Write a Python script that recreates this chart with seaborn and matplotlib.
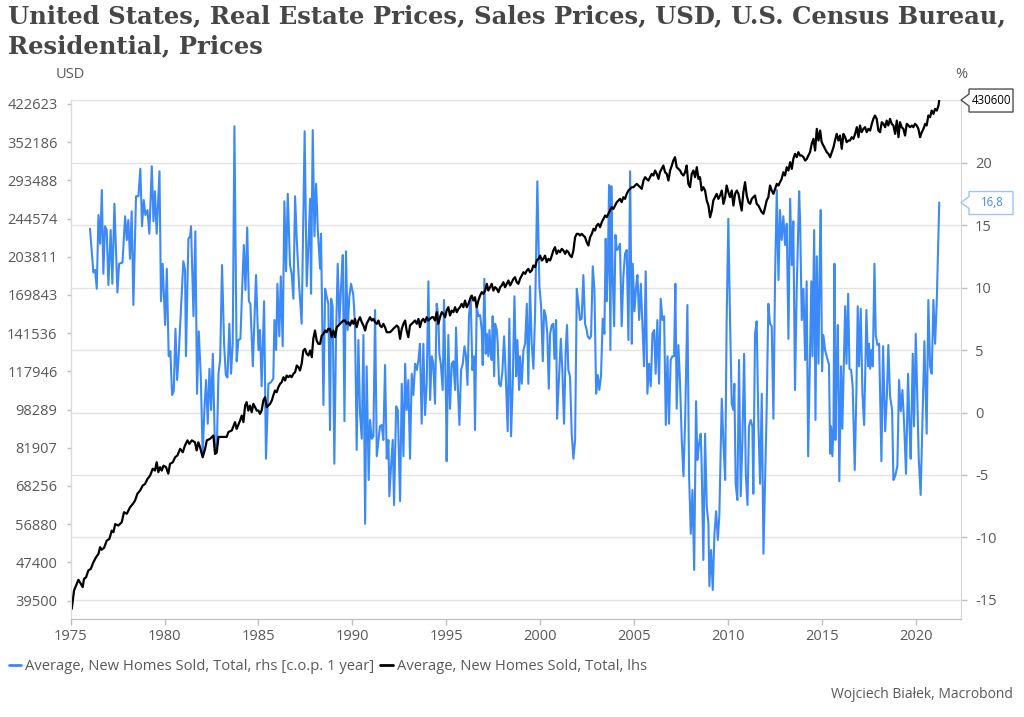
import matplotlib
matplotlib.use("Agg")
import matplotlib.pyplot as plt
import matplotlib.ticker as mticker
from matplotlib.lines import Line2D
from matplotlib.patches import Polygon
import seaborn as sns
import pandas as pd

# ---------------------------------------------------------------
# Data (decimal year, value)
# ---------------------------------------------------------------
# rhs: average new home price, % change on previous year
blue_pct = [
    (1976.03, 14.7), (1976.21, 11.2), (1976.30, 11.4), (1976.39, 9.9), (1976.48, 15.8),
    (1976.57, 13.5), (1976.66, 17.8), (1976.74, 11.1), (1976.83, 14.9), (1976.92, 14.6),
    (1977.01, 10.2), (1977.13, 14.6), (1977.22, 10.3), (1977.33, 16.7), (1977.49, 9.6),
    (1977.58, 11.9), (1977.76, 12.0), (1977.90, 15.7), (1977.99, 13.8), (1978.07, 15.4),
    (1978.16, 12.3), (1978.25, 16.1), (1978.34, 8.6), (1978.48, 17.3), (1978.61, 17.3),
    (1978.71, 19.5), (1978.80, 14.9), (1978.89, 17.0), (1978.98, 15.8), (1979.09, 16.2),
    (1979.19, 14.3), (1979.32, 19.7), (1979.41, 15.3), (1979.49, 17.7), (1979.58, 14.3),
    (1979.73, 19.3), (1979.81, 8.9), (1979.90, 11.9), (1980.03, 7.0), (1980.12, 11.5),
    (1980.22, 4.5), (1980.31, 4.9), (1980.40, 1.4), (1980.49, 1.7), (1980.58, 6.7),
    (1980.67, 2.6), (1980.75, 4.5), (1980.88, 8.5), (1981.00, 12.1), (1981.09, 11.4),
    (1981.14, 4.5), (1981.27, 13.9), (1981.36, 14.1), (1981.41, 14.9), (1981.54, 7.7),
    (1981.64, 14.5), (1981.73, 1.5), (1981.82, 6.5), (1981.93, 2.9), (1982.03, -3.5),
    (1982.12, 0.2), (1982.21, 2.6), (1982.30, -0.9), (1982.39, 3.5), (1982.48, 0.2),
    (1982.57, 4.7), (1982.69, -3.3), (1982.78, -3.2), (1982.87, 3.1), (1982.96, 4.2),
    (1983.06, 11.8), (1983.17, 5.5), (1983.26, 3.0), (1983.35, 2.8), (1983.45, 7.1),
    (1983.54, 3.1), (1983.63, 5.5), (1983.72, 22.9), (1983.84, 4.1), (1983.93, 5.8),
    (1984.04, 5.9), (1984.13, 9.8), (1984.22, 13.4), (1984.31, 9.8), (1984.40, 14.8),
    (1984.49, 8.9), (1984.57, 8.7), (1984.70, 3.7), (1984.87, 11.0), (1985.00, 5.0),
    (1985.08, 6.6), (1985.17, 2.1), (1985.30, 8.9), (1985.40, -3.7), (1985.53, 2.3),
    (1985.65, 2.4), (1985.79, 2.7), (1985.85, 7.4), (1985.94, 5.0), (1986.01, 10.3),
    (1986.11, 6.1), (1986.19, 10.9), (1986.29, 5.3), (1986.38, 16.9), (1986.47, 11.3),
    (1986.56, 17.5), (1986.68, 11.8), (1986.77, 11.1), (1986.86, 9.1), (1986.95, 17.3),
    (1987.04, 13.8), (1987.16, 10.3), (1987.30, 7.1), (1987.46, 22.5), (1987.57, 10.1),
    (1987.66, 13.3), (1987.75, 17.1), (1987.80, 9.5), (1987.89, 22.6), (1987.98, 14.1),
    (1988.07, 18.3), (1988.16, 14.6), (1988.28, 11.5), (1988.33, 14.3), (1988.46, 0.6),
    (1988.55, 9.9), (1988.63, 9.3), (1988.72, 8.7), (1988.81, -1.4), (1988.87, 9.1),
    (1988.95, 8.5), (1989.04, -4.1), (1989.13, 6.1), (1989.22, 11.9), (1989.31, 7.1),
    (1989.40, 10.1), (1989.49, 12.6), (1989.58, -0.7), (1989.66, 12.9), (1989.75, 6.6),
    (1989.84, 9.3), (1989.93, 10.3), (1990.05, 9.4), (1990.14, 7.1), (1990.23, -3.0),
    (1990.32, 5.8), (1990.41, -0.1), (1990.50, -2.1), (1990.59, 6.2), (1990.68, -8.9),
    (1990.76, 3.7), (1990.87, -5.4), (1990.94, -0.6), (1991.03, -2.1), (1991.12, -1.9),
    (1991.21, 8.2), (1991.30, -3.5), (1991.39, -2.2), (1991.47, -1.1), (1991.56, -1.0),
    (1991.65, -2.2), (1991.74, 3.8), (1991.83, -3.7), (1991.92, -2.2), (1991.97, -6.7),
    (1992.06, -4.3), (1992.15, -2.2), (1992.22, -7.4), (1992.33, 0.5), (1992.42, 0.2),
    (1992.54, -7.1), (1992.63, 2.3), (1992.72, -3.5), (1992.81, 3.9), (1992.89, 0.2),
    (1992.98, 2.6), (1993.07, -3.7), (1993.16, 3.1), (1993.25, 1.4), (1993.34, 3.9),
    (1993.43, 3.4), (1993.52, 4.2), (1993.60, 5.5), (1993.69, -0.9), (1993.78, 5.5),
    (1993.87, -0.2), (1993.96, 2.3), (1994.05, 10.5), (1994.14, 1.0), (1994.23, 4.5),
    (1994.31, 3.9), (1994.40, 0.7), (1994.49, 8.7), (1994.58, 7.7), (1994.63, 4.7),
    (1994.71, 3.9), (1994.81, 1.8), (1994.88, 9.0), (1994.99, 0.5), (1995.02, -3.9),
    (1995.11, 6.2), (1995.20, 0.3), (1995.29, 3.9), (1995.38, 4.1), (1995.47, 1.8),
    (1995.52, 6.8), (1995.61, 2.3), (1995.70, -1.0), (1995.79, 3.4), (1995.88, 3.9),
    (1995.97, 5.3), (1996.05, 4.5), (1996.13, 2.2), (1996.21, 7.7), (1996.30, 9.3),
    (1996.39, 3.4), (1996.48, 4.5), (1996.53, -1.4), (1996.62, 8.5), (1996.71, 7.7),
    (1996.80, 7.8), (1996.89, 6.6), (1996.94, 3.8), (1997.03, 10.7), (1997.10, 4.7),
    (1997.16, 6.3), (1997.24, 4.5), (1997.30, 6.6), (1997.37, 4.7), (1997.42, 4.2),
    (1997.47, 7.7), (1997.55, 2.9), (1997.60, 7.1), (1997.69, 6.6), (1997.74, 5.5),
    (1997.81, 2.3), (1997.90, 2.1), (1997.99, 3.3), (1998.08, 6.1), (1998.17, 2.9),
    (1998.27, -1.5), (1998.36, 7.5), (1998.45, -1.9), (1998.54, 2.3), (1998.63, 9.3),
    (1998.72, 2.9), (1998.79, 5.8), (1998.88, 1.8), (1998.93, 4.5), (1999.02, 2.3),
    (1999.11, 5.0), (1999.20, 5.5), (1999.29, 8.7), (1999.37, 2.3), (1999.46, 10.1),
    (1999.55, 5.5), (1999.64, 3.5), (1999.73, 7.9), (1999.85, 18.5), (1999.96, 10.1),
    (2000.05, 8.5), (2000.14, 4.1), (2000.21, 8.2), (2000.30, 7.7), (2000.38, 6.3),
    (2000.46, 1.9), (2000.53, 6.3), (2000.62, 7.0), (2000.70, 7.1), (2000.76, 4.3),
    (2000.85, 7.4), (2000.90, -0.5), (2000.99, 2.3), (2001.10, 5.9), (2001.18, 3.4),
    (2001.27, -0.9), (2001.36, 5.0), (2001.43, 7.0), (2001.50, 3.4), (2001.59, 2.9),
    (2001.68, -1.7), (2001.77, -3.7), (2001.86, -2.2), (2001.95, 9.9), (2002.04, 8.7),
    (2002.12, 7.4), (2002.21, 7.5), (2002.30, 11.0), (2002.39, 7.1), (2002.48, 6.6),
    (2002.53, 6.1), (2002.62, 5.9), (2002.71, 6.1), (2002.80, 11.7), (2002.89, 9.8),
    (2002.98, 1.5), (2003.07, 3.0), (2003.15, 1.8), (2003.24, 2.9), (2003.33, 7.5),
    (2003.42, 6.3), (2003.49, 13.9), (2003.54, 8.9), (2003.60, 11.5), (2003.67, 18.2),
    (2003.74, 5.0), (2003.79, 18.1), (2003.86, 11.0), (2003.94, 6.9), (2004.01, 14.2),
    (2004.08, 13.0), (2004.17, 13.1), (2004.25, 13.5), (2004.34, 6.9), (2004.43, 10.9),
    (2004.52, 12.7), (2004.61, 13.0), (2004.70, 5.8), (2004.79, 19.3), (2004.88, 5.5),
    (2004.93, 11.9), (2005.02, 8.1), (2005.11, 10.1), (2005.18, 11.0), (2005.27, 7.4),
    (2005.36, 10.3), (2005.44, 7.1), (2005.53, 3.7), (2005.62, 11.3), (2005.71, 1.5),
    (2005.80, 3.9), (2005.89, 2.1), (2005.98, 6.3), (2006.07, 6.6), (2006.15, 3.1),
    (2006.24, 7.4), (2006.33, 2.3), (2006.42, 9.1), (2006.51, 7.4), (2006.60, 7.7),
    (2006.69, -1.0), (2006.78, 4.5), (2006.86, -0.9), (2006.95, 4.2), (2007.04, 4.5),
    (2007.13, 4.5), (2007.20, 10.3), (2007.27, 0.3), (2007.36, 5.4), (2007.45, 2.3),
    (2007.54, -2.2), (2007.63, -5.1), (2007.72, -0.6), (2007.84, 8.6), (2007.93, -5.1),
    (2008.02, -9.7), (2008.11, -6.2), (2008.20, -12.6), (2008.30, 0.9), (2008.37, -3.8),
    (2008.46, -2.5), (2008.55, -1.7), (2008.60, -4.3), (2008.69, -11.8), (2008.78, -1.7),
    (2008.87, -7.5), (2008.96, -8.9), (2009.01, -13.9), (2009.10, -11.0), (2009.19, -14.2),
    (2009.28, -9.7), (2009.37, -7.9), (2009.46, -10.2), (2009.54, -8.3), (2009.67, 1.1),
    (2009.76, -2.5), (2009.85, -5.4), (2009.93, 7.4), (2010.02, 15.5), (2010.11, 7.4),
    (2010.20, 0.7), (2010.29, 0.2), (2010.34, 2.3), (2010.41, -5.7), (2010.50, -7.0),
    (2010.59, 4.2), (2010.68, -6.7), (2010.77, -2.2), (2010.86, 4.7), (2010.95, -4.9),
    (2011.04, -7.4), (2011.12, -1.1), (2011.21, -0.6), (2011.30, -1.1), (2011.35, -6.5),
    (2011.44, 6.3), (2011.53, 7.3), (2011.62, -0.9), (2011.71, -5.7), (2011.80, 1.5),
    (2011.89, -11.3), (2011.98, -5.4), (2012.06, 0.2), (2012.15, 8.7), (2012.24, 7.1),
    (2012.33, 6.9), (2012.42, -0.5), (2012.51, 11.0), (2012.60, 17.8), (2012.69, 10.6),
    (2012.77, 16.2), (2012.86, 13.8), (2012.95, 15.7), (2013.04, 13.4), (2013.13, 15.1),
    (2013.22, 5.9), (2013.31, 17.1), (2013.40, 11.8), (2013.48, 15.3), (2013.57, 1.8),
    (2013.66, 9.8), (2013.79, 17.7), (2013.84, 15.4), (2013.93, 7.4), (2014.02, 9.9),
    (2014.11, 4.2), (2014.19, 10.5), (2014.27, -3.5), (2014.37, 4.5), (2014.44, 10.5),
    (2014.50, 4.5), (2014.59, 14.6), (2014.66, -0.6), (2014.73, 12.5), (2014.82, 3.9),
    (2014.89, 12.5), (2014.94, 16.2), (2015.01, 3.3), (2015.08, 6.2), (2015.17, 5.0),
    (2015.26, 4.5), (2015.38, 3.8), (2015.44, -3.3), (2015.49, -1.1), (2015.56, -3.5),
    (2015.62, -1.1), (2015.67, 11.9), (2015.72, -2.2), (2015.79, 3.9), (2015.85, 7.0),
    (2015.93, -5.5), (2016.02, 3.7), (2016.09, -1.3), (2016.16, 3.1), (2016.24, 8.5),
    (2016.31, 3.9), (2016.40, 9.5), (2016.47, 3.5), (2016.56, 3.4), (2016.64, 2.1),
    (2016.75, -4.6), (2016.84, 1.8), (2016.91, 8.5), (2016.98, 3.7), (2017.07, 8.3),
    (2017.16, 1.5), (2017.25, -1.0), (2017.32, 3.9), (2017.37, 8.2), (2017.46, 3.7),
    (2017.51, 5.5), (2017.57, 3.5), (2017.64, 5.0), (2017.71, 3.7), (2017.80, 11.9),
    (2017.87, 6.2), (2017.96, 5.4), (2018.05, 5.5), (2018.17, -3.9), (2018.26, 5.3),
    (2018.37, -1.5), (2018.46, 1.3), (2018.54, 5.4), (2018.63, 1.3), (2018.74, 0.2),
    (2018.81, -5.4), (2018.90, -5.1), (2019.02, -4.3), (2019.11, 2.6), (2019.20, 0.1),
    (2019.29, 1.8), (2019.38, -0.9), (2019.48, -4.9), (2019.59, 3.1), (2019.66, -0.9),
    (2019.73, -3.7), (2019.84, 4.7), (2019.91, -1.1), (2020.00, 6.3), (2020.09, 0.7),
    (2020.16, -3.7), (2020.26, -6.6), (2020.37, 0.3), (2020.46, 5.7), (2020.58, -1.7),
    (2020.67, 9.0), (2020.76, 3.7), (2020.85, 3.1), (2020.94, 9.0), (2021.03, 5.5),
    (2021.12, 9.0), (2021.17, 11.9), (2021.25, 16.8),
]

# lhs: average new home price, USD
black_usd = [
    (1975.06, 37960), (1975.18, 41440), (1975.29, 42430), (1975.41, 43600), (1975.54, 42780),
    (1975.64, 42110), (1975.71, 43800), (1975.82, 44130), (1975.94, 45580), (1976.07, 45930),
    (1976.21, 47400), (1976.35, 48550), (1976.48, 49350), (1976.57, 50950), (1976.65, 50320),
    (1976.78, 50780), (1976.92, 52570), (1977.06, 52980), (1977.19, 55150), (1977.28, 54730),
    (1977.37, 56880), (1977.54, 56490), (1977.72, 57400), (1977.84, 60200), (1977.99, 59760),
    (1978.16, 61630), (1978.31, 62630), (1978.43, 63660), (1978.55, 65720), (1978.70, 66800),
    (1978.84, 68400), (1978.96, 68890), (1979.09, 70550), (1979.23, 71700), (1979.37, 74100),
    (1979.49, 73440), (1979.58, 76420), (1979.67, 72890), (1979.76, 74650), (1979.85, 73440),
    (1979.94, 75180), (1980.08, 74650), (1980.20, 72350), (1980.29, 75830), (1980.44, 76420),
    (1980.56, 78260), (1980.68, 78900), (1980.83, 81480), (1980.97, 80160), (1981.09, 82830),
    (1981.22, 84830), (1981.32, 83430), (1981.45, 84830), (1981.62, 84060), (1981.71, 80870),
    (1981.80, 84060), (1981.89, 82060), (1982.03, 78260), (1982.16, 81480), (1982.25, 84830),
    (1982.42, 85440), (1982.60, 86820), (1982.69, 79520), (1982.78, 80160), (1982.87, 86240),
    (1983.13, 86240), (1983.31, 86240), (1983.40, 88270), (1983.58, 88940), (1983.75, 92540),
    (1983.84, 89600), (1984.02, 93230), (1984.11, 95480), (1984.20, 92540), (1984.29, 100150),
    (1984.37, 101840), (1984.46, 97770), (1984.55, 100150), (1984.64, 97010), (1984.73, 101000),
    (1984.91, 97770), (1985.00, 97830), (1985.08, 96280), (1985.17, 97830), (1985.26, 102610),
    (1985.35, 104250), (1985.44, 99390), (1985.53, 100180), (1985.62, 100980), (1985.71, 102610),
    (1985.79, 105080), (1985.88, 107610), (1985.97, 106760), (1986.06, 109350), (1986.15, 111100),
    (1986.24, 111990), (1986.33, 114680), (1986.42, 112880), (1986.50, 115600), (1986.59, 114680),
    (1986.68, 115600), (1986.77, 114680), (1986.86, 116540), (1986.95, 117450), (1987.04, 121260),
    (1987.13, 120290), (1987.21, 118410), (1987.30, 122220), (1987.39, 130260), (1987.48, 131290),
    (1987.57, 128190), (1987.66, 127190), (1987.75, 130260), (1987.84, 126180), (1987.92, 137710),
    (1988.01, 143300), (1988.10, 136620), (1988.19, 134470), (1988.28, 134470), (1988.37, 139920),
    (1988.46, 141050), (1988.55, 143300), (1988.63, 142150), (1988.72, 144460), (1988.81, 144460),
    (1988.90, 138830), (1988.99, 143300), (1989.08, 138830), (1989.17, 145580), (1989.26, 146770),
    (1989.34, 147960), (1989.43, 149120), (1989.52, 150310), (1989.61, 150310), (1989.70, 147960),
    (1989.79, 149120), (1989.88, 146770), (1989.97, 150310), (1990.06, 147960), (1990.14, 151490),
    (1990.23, 145580), (1990.32, 150310), (1990.41, 152700), (1990.50, 149120), (1990.59, 146770),
    (1990.68, 143300), (1990.76, 147960), (1990.85, 150310), (1990.94, 152700), (1991.03, 150310),
    (1991.12, 151490), (1991.21, 149120), (1991.30, 147960), (1991.39, 150310), (1991.47, 146770),
    (1991.56, 145580), (1991.65, 147960), (1991.74, 145580), (1991.83, 142150), (1991.92, 142150),
    (1992.01, 142150), (1992.10, 143300), (1992.18, 144460), (1992.27, 145580), (1992.36, 146770),
    (1992.45, 145580), (1992.54, 137710), (1992.63, 144460), (1992.72, 147960), (1992.81, 150310),
    (1992.89, 143300), (1992.98, 138830), (1993.07, 146770), (1993.16, 147960), (1993.25, 149120),
    (1993.34, 150310), (1993.43, 147960), (1993.52, 151490), (1993.60, 145580), (1993.69, 150310),
    (1993.78, 151490), (1993.87, 149120), (1993.96, 152700), (1994.05, 150310), (1994.14, 151490),
    (1994.23, 152700), (1994.31, 152700), (1994.40, 150310), (1994.49, 156420), (1994.58, 147960),
    (1994.67, 152700), (1994.76, 156420), (1994.85, 155150), (1994.94, 152700), (1995.02, 157670),
    (1995.11, 160170), (1995.20, 153940), (1995.29, 157670), (1995.38, 156420), (1995.47, 160170),
    (1995.56, 156420), (1995.65, 158910), (1995.73, 160170), (1995.82, 162740), (1995.91, 160170),
    (1996.00, 165340), (1996.09, 160170), (1996.18, 162740), (1996.27, 166690), (1996.36, 169340),
    (1996.44, 165340), (1996.53, 168020), (1996.62, 160170), (1996.71, 165340), (1996.80, 169340),
    (1996.89, 172100), (1996.98, 170690), (1997.07, 173430), (1997.16, 179060), (1997.24, 173430),
    (1997.33, 176220), (1997.42, 179060), (1997.51, 173430), (1997.60, 176220), (1997.69, 174870),
    (1997.78, 172100), (1997.87, 176220), (1997.95, 177630), (1998.04, 180480), (1998.13, 176220),
    (1998.22, 179060), (1998.31, 181940), (1998.40, 177630), (1998.49, 180480), (1998.58, 183400),
    (1998.66, 184860), (1998.75, 180480), (1998.84, 179060), (1998.93, 183400), (1999.02, 186320),
    (1999.11, 189280), (1999.20, 187800), (1999.29, 190830), (1999.37, 192330), (1999.46, 189280),
    (1999.55, 190830), (1999.64, 195450), (1999.73, 193870), (1999.82, 200150), (1999.91, 201730),
    (2000.00, 204930), (2000.09, 200150), (2000.17, 201730), (2000.26, 204930), (2000.35, 198570),
    (2000.44, 201730), (2000.53, 200150), (2000.62, 204930), (2000.70, 209930), (2000.79, 213330),
    (2000.88, 206640), (2000.97, 209930), (2001.06, 208280), (2001.15, 211600), (2001.24, 209930),
    (2001.33, 206640), (2001.41, 209930), (2001.50, 208280), (2001.59, 204930), (2001.68, 203380),
    (2001.77, 209930), (2001.86, 223730), (2001.95, 227330), (2002.04, 227330), (2002.12, 225550),
    (2002.21, 227330), (2002.30, 225550), (2002.39, 223730), (2002.48, 218440), (2002.57, 215000),
    (2002.66, 223730), (2002.75, 227330), (2002.84, 232850), (2002.92, 230980), (2003.01, 236570),
    (2003.10, 238420), (2003.19, 234680), (2003.28, 240360), (2003.37, 244190), (2003.46, 248140),
    (2003.54, 246160), (2003.63, 250090), (2003.72, 254090), (2003.81, 258200), (2003.90, 256120),
    (2003.99, 260230), (2004.08, 264410), (2004.17, 266530), (2004.25, 268640), (2004.34, 264410),
    (2004.43, 270790), (2004.52, 268640), (2004.61, 275160), (2004.70, 279550), (2004.79, 281830),
    (2004.88, 284030), (2004.97, 284030), (2005.05, 286300), (2005.14, 288630), (2005.23, 286300),
    (2005.32, 284030), (2005.41, 281830), (2005.50, 293210), (2005.59, 297910), (2005.67, 295540),
    (2005.76, 293210), (2005.85, 297910), (2005.94, 302660), (2006.03, 300320), (2006.12, 307570),
    (2006.21, 302660), (2006.30, 295540), (2006.38, 305140), (2006.47, 310000), (2006.56, 314970),
    (2006.65, 305140), (2006.74, 302660), (2006.83, 293210), (2006.92, 307570), (2007.01, 314970),
    (2007.09, 322560), (2007.18, 327810), (2007.27, 312480), (2007.36, 310000), (2007.45, 307570),
    (2007.54, 302660), (2007.63, 300320), (2007.72, 305140), (2007.80, 314970), (2007.89, 288630),
    (2007.98, 284030), (2008.07, 302660), (2008.16, 307570), (2008.25, 297910), (2008.34, 312480),
    (2008.43, 295540), (2008.51, 297910), (2008.60, 279550), (2008.69, 284030), (2008.78, 279550),
    (2008.87, 266530), (2008.96, 260230), (2009.05, 246160), (2009.14, 254090), (2009.22, 266530),
    (2009.31, 270790), (2009.40, 275160), (2009.49, 268640), (2009.58, 272950), (2009.67, 279550),
    (2009.76, 262330), (2009.85, 270790), (2009.93, 286300), (2010.02, 277290), (2010.11, 270790),
    (2010.20, 279550), (2010.29, 260230), (2010.38, 275160), (2010.47, 279550), (2010.56, 275160),
    (2010.64, 264410), (2010.73, 254090), (2010.82, 277290), (2010.91, 290880), (2011.00, 272950),
    (2011.09, 264410), (2011.18, 262330), (2011.27, 268640), (2011.35, 270790), (2011.44, 272950),
    (2011.53, 262330), (2011.62, 260230), (2011.71, 256120), (2011.80, 252090), (2011.89, 250090),
    (2011.98, 258200), (2012.06, 266530), (2012.15, 270790), (2012.24, 286300), (2012.33, 279550),
    (2012.42, 275160), (2012.51, 281830), (2012.60, 288630), (2012.69, 286300), (2012.77, 290880),
    (2012.86, 295540), (2012.95, 305140), (2013.04, 300320), (2013.13, 312480), (2013.22, 307570),
    (2013.31, 320070), (2013.40, 310000), (2013.48, 325180), (2013.57, 333030), (2013.66, 327810),
    (2013.75, 335710), (2013.84, 330380), (2013.93, 330380), (2014.02, 327810), (2014.11, 322560),
    (2014.20, 325180), (2014.28, 330380), (2014.37, 335710), (2014.46, 349340), (2014.55, 357750),
    (2014.64, 338360), (2014.73, 375210), (2014.82, 354920), (2014.91, 372260), (2014.99, 352060),
    (2015.08, 346530), (2015.17, 341120), (2015.26, 335710), (2015.35, 333030), (2015.44, 327810),
    (2015.53, 335710), (2015.62, 343770), (2015.70, 354920), (2015.79, 366360), (2015.88, 354920),
    (2015.97, 363480), (2016.06, 341120), (2016.15, 366360), (2016.24, 360590), (2016.32, 352060),
    (2016.41, 354920), (2016.50, 354920), (2016.59, 360590), (2016.68, 357750), (2016.77, 366360),
    (2016.86, 378220), (2016.95, 360590), (2017.03, 381290), (2017.12, 369290), (2017.21, 375210),
    (2017.30, 378220), (2017.39, 369290), (2017.48, 375210), (2017.57, 372260), (2017.66, 384270),
    (2017.74, 393540), (2017.83, 399820), (2017.92, 393540), (2018.01, 372260), (2018.10, 369290),
    (2018.19, 387340), (2018.28, 384270), (2018.37, 378220), (2018.45, 390390), (2018.54, 381290),
    (2018.63, 393540), (2018.72, 384270), (2018.81, 381290), (2018.90, 366360), (2018.99, 390390),
    (2019.08, 360590), (2019.16, 387340), (2019.25, 378220), (2019.34, 375210), (2019.43, 363480),
    (2019.52, 384270), (2019.61, 381290), (2019.70, 378220), (2019.79, 381290), (2019.87, 378220),
    (2019.96, 384270), (2020.05, 381290), (2020.14, 375210), (2020.23, 360590), (2020.32, 369290),
    (2020.41, 375210), (2020.50, 384270), (2020.58, 381290), (2020.67, 399820), (2020.76, 396700),
    (2020.85, 409460), (2020.94, 403060), (2021.03, 412780), (2021.12, 409460), (2021.21, 419370),
    (2021.25, 430600),
]

usd_ticks = [39500, 47400, 56880, 68256, 81907, 98289, 117946, 141536,
             169843, 203811, 244574, 293488, 352186, 422623]
pct_ticks = [-15, -10, -5, 0, 5, 10, 15, 20, 25]
year_ticks = [1975, 1980, 1985, 1990, 1995, 2000, 2005, 2010, 2015, 2020]

title = ("United States, Real Estate Prices, Sales Prices, USD, U.S. Census Bureau,\n"
         "Residential, Prices")
label_rhs = "Average, New Homes Sold, Total, rhs [c.o.p. 1 year]"
label_lhs = "Average, New Homes Sold, Total, lhs"
last_usd_label = "430600"
last_pct_label = "16,8"

BLUE = "#3c8af5"
GREY_TXT = "#595959"

df_blue = pd.DataFrame(blue_pct, columns=["year", "pct"])
df_black = pd.DataFrame(black_usd, columns=["year", "usd"])

sns.set_style("white")
plt.rcParams["font.family"] = ["Open Sans", "DejaVu Sans"]

fig = plt.figure(figsize=(10.24, 7.17), dpi=100)
ax = fig.add_axes([0.069, 0.1367, 0.8695, 0.7238])   # lhs, black line (top layer)
ax_r = ax.twinx()                                      # rhs, blue line (bottom layer)
ax.set_zorder(ax_r.get_zorder() + 1)
ax.patch.set_visible(False)

sns.lineplot(data=df_blue, x="year", y="pct", ax=ax_r, color=BLUE,
             linewidth=1.5, legend=False)
sns.lineplot(data=df_black, x="year", y="usd", ax=ax, color="black",
             linewidth=1.6, legend=False)

# x axis
ax.set_xlim(1975.0, 2022.41)
ax.set_xticks(year_ticks)
ax.set_xticklabels([str(y) for y in year_ticks])

# lhs log axis
ax.set_yscale("log")
ax.set_ylim(36164, 430600)
ax.yaxis.set_major_locator(mticker.FixedLocator(usd_ticks))
ax.yaxis.set_major_formatter(mticker.FixedFormatter([str(v) for v in usd_ticks]))
ax.yaxis.set_minor_locator(mticker.NullLocator())

# rhs linear axis, grid follows these ticks
ax_r.set_ylim(-16.52, 25)
ax_r.yaxis.set_major_locator(mticker.FixedLocator(pct_ticks))
ax_r.yaxis.set_major_formatter(mticker.FixedFormatter(
    [str(v) if v != 25 else "" for v in pct_ticks]))
ax_r.yaxis.grid(True, color="#e3e3e3", linewidth=1.0)
ax_r.xaxis.grid(False)
ax.grid(False)

for a in (ax, ax_r):
    a.set_xlabel("")
    a.set_ylabel("")
    a.spines["top"].set_visible(False)
    a.spines["left"].set_color("#d9d9d9")
    a.spines["right"].set_color("#d9d9d9")
    a.spines["bottom"].set_color("#bfbfbf")

ax.tick_params(axis="x", length=4, width=1, color="#bfbfbf", labelsize=10.5,
               labelcolor=GREY_TXT, pad=3, bottom=True)
ax.tick_params(axis="y", which="major", length=3, width=1, color="#bfbfbf",
               labelsize=10.5, labelcolor=GREY_TXT, pad=6.5, left=True)
ax_r.tick_params(axis="y", which="major", length=4, width=1, color="#bfbfbf",
                 labelsize=10.5, labelcolor=GREY_TXT, pad=6, right=True)

# unit labels
fig.text(70 / 1024, 1 - 75 / 717, "USD", ha="center", va="center",
         fontsize=10.5, color=GREY_TXT)
fig.text(961 / 1024, 1 - 75 / 717, "%", ha="center", va="center",
         fontsize=10.5, color=GREY_TXT)

# title
fig.text(8 / 1024, 1 - 4 / 717, title, ha="left", va="top", fontsize=17.5,
         fontweight="bold", family="DejaVu Serif", color="#464646",
         linespacing=1.35)

# legend
handles = [Line2D([], [], color=BLUE, lw=2), Line2D([], [], color="black", lw=2)]
fig.legend(handles, [label_rhs, label_lhs], loc="center left",
           bbox_to_anchor=(0.004, 1 - 667 / 717), ncol=2, frameon=False,
           fontsize=10.6, handlelength=0.85, handletextpad=0.3, columnspacing=0.4,
           labelcolor=GREY_TXT, borderaxespad=0, borderpad=0.3)

fig.text(1013 / 1024, 1 - 695 / 717, "Wojciech Białek, Macrobond", ha="right",
         va="center", fontsize=10, color=GREY_TXT)

# last-value callouts on the right axis
fig.canvas.draw()
x_tip = ax.transAxes.transform((1, 0))[0]


def callout(y_tip, text, edge, txt_color):
    verts = [(x_tip, y_tip), (x_tip + 8, y_tip + 6), (x_tip + 8, y_tip + 11),
             (x_tip + 52, y_tip + 11), (x_tip + 52, y_tip - 12),
             (x_tip + 8, y_tip - 12), (x_tip + 8, y_tip - 6)]
    verts = [(vx / 1024, vy / 717) for vx, vy in verts]
    fig.add_artist(Polygon(verts, closed=True, facecolor="white", edgecolor=edge,
                           linewidth=1, transform=fig.transFigure, zorder=5))
    fig.text((x_tip + 31) / 1024, y_tip / 717, text, ha="center", va="center",
             fontsize=8.3, color=txt_color, zorder=6)


callout(ax.transData.transform((2000, black_usd[-1][1]))[1], last_usd_label,
        "#505050", "black")
callout(ax_r.transData.transform((2000, blue_pct[-1][1]))[1], last_pct_label,
        "#9dc3f7", BLUE)

fig.savefig("out.png", dpi=100)
